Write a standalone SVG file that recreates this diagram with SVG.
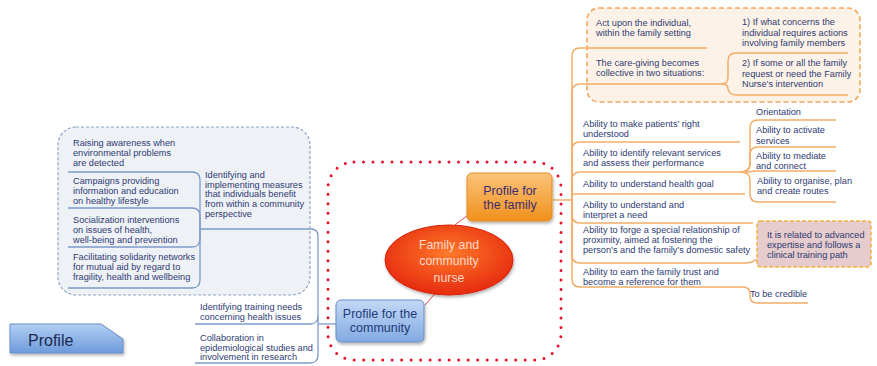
<svg xmlns="http://www.w3.org/2000/svg" width="877" height="366" viewBox="0 0 877 366">
<defs>
<linearGradient id="gOr" x1="0" y1="0" x2="0" y2="1"><stop offset="0" stop-color="#fcc47a"/><stop offset="1" stop-color="#f0901c"/></linearGradient>
<linearGradient id="gBl" x1="0" y1="0" x2="0" y2="1"><stop offset="0" stop-color="#c3d8f5"/><stop offset="1" stop-color="#82aae2"/></linearGradient>
<linearGradient id="gPr" x1="0" y1="0" x2="0" y2="1"><stop offset="0" stop-color="#b2cff4"/><stop offset="1" stop-color="#6d9bdb"/></linearGradient>
<radialGradient id="gRd" cx="0.5" cy="0.4" r="0.6"><stop offset="0" stop-color="#ff7a2a"/><stop offset="1" stop-color="#e62a0e"/></radialGradient>
<filter id="sh" x="-20%" y="-20%" width="140%" height="150%"><feDropShadow dx="1" dy="2" stdDeviation="1.5" flood-color="#000" flood-opacity="0.3"/></filter>
<style>
text{font-family:"Liberation Sans",Arial,sans-serif;}
.t{font-size:9.2px;fill:#2e3a72;}
.ol{fill:none;stroke:#f2ad68;stroke-width:1.5;}
.bl{fill:none;stroke:#7d9aca;stroke-width:1.3;}
.rl{fill:none;stroke:#e04848;stroke-width:1;}
</style>
</defs>
<rect width="877" height="366" fill="#ffffff"/>

<!-- background frames -->
<g id="frames">
<rect x="58" y="127" width="252" height="168" rx="18" fill="#eef1f6" stroke="#8ea3c6" stroke-width="1.2" stroke-dasharray="3 2"/>
<rect x="587" y="8" width="273" height="94" rx="12" fill="#fdf2e7" stroke="#f2a860" stroke-width="1.6" stroke-dasharray="5 3"/>
<rect x="328" y="162" width="233" height="198" rx="26" fill="none" stroke="#e8102a" stroke-width="3" stroke-linecap="round" stroke-dasharray="0 9.5"/>
</g>

<!-- connectors -->
<g id="connectors">
<path class="rl" d="M455,225 L468,215"/>
<path class="rl" d="M438,290 L425,305"/>
<path class="ol" d="M553,200 H572"/>
<path class="ol" d="M572,200 V56 Q572,48 580,48 H707"/>
<path class="ol" d="M572,200 V92 Q572,84 580,84 H722"/>
<path class="ol" d="M722,84 Q728,84 728,77 V61 Q728,53 736,53 H848"/>
<path class="ol" d="M722,84 Q728,84 728,89 Q729,95 737,95 H848"/>
<path class="ol" d="M572,200 V150 Q572,142 580,142 H740"/>
<path class="ol" d="M572,200 V180 Q572,172 580,172 H748"/>
<path class="ol" d="M740,172 Q750,172 750,164 V128 Q750,120 758,120 H836"/>
<path class="ol" d="M740,172 Q750,172 750,164 V155 Q750,147 758,147 H836"/>
<path class="ol" d="M748,172 Q752,171 758,171 H836"/>
<path class="ol" d="M740,172 Q750,172 750,180 V194 Q750,202 758,202 H836"/>
<path class="ol" d="M572,200 V194 H745"/>
<path class="ol" d="M572,200 V215 Q572,223 580,223 H753"/>
<path class="ol" d="M572,200 V255 Q572,263 580,263 H745 Q752,263 755,260 H866"/>
<path class="ol" d="M572,200 V279 Q572,287 580,287 H743 Q750,287 750,294 V296 Q750,303 757,303 H808"/>
<path class="bl" d="M68,172 H192 Q200,172 200,180 V229"/>
<path class="bl" d="M68,208 H192 Q200,208 200,216 V229"/>
<path class="bl" d="M68,247 H192 Q200,247 200,239 V229"/>
<path class="bl" d="M68,288 H192 Q200,288 200,280 V229"/>
<path class="bl" d="M200,229 H311 Q318,229 318,236 V316 Q318,324 310,324 H195"/>
<path class="bl" d="M318,316 V355 Q318,363 310,363 H195"/>
<path class="bl" d="M318,324 H336"/>
</g>

<!-- central node -->
<g id="n-center">
<ellipse cx="449" cy="260" rx="64" ry="35" fill="url(#gRd)" stroke="#d8200c" stroke-width="1" filter="url(#sh)"/>
<g font-size="12.3" fill="#ffd9cc" text-anchor="middle">
<text x="449" y="249">Family and</text>
<text x="449" y="265">community</text>
<text x="449" y="282">nurse</text>
</g>
</g>

<g id="n-family">
<rect x="467" y="173" width="85" height="48" rx="5" fill="url(#gOr)" stroke="#e38a24" stroke-width="1" filter="url(#sh)"/>
<g font-size="12.5" fill="#3d2b73" text-anchor="middle">
<text x="510" y="195">Profile for</text>
<text x="510" y="208.5">the family</text>
</g>
</g>

<g id="n-community">
<rect x="336" y="300" width="88" height="42" rx="5" fill="url(#gBl)" stroke="#6a90c8" stroke-width="1" filter="url(#sh)"/>
<g font-size="12.5" fill="#1f3a7a" text-anchor="middle">
<text x="380" y="318">Profile for the</text>
<text x="380" y="332">community</text>
</g>
</g>

<g id="n-profile">
<path d="M10,324 H101 L123,339 V353 H10 Z" fill="url(#gPr)" stroke="#6a90c8" stroke-width="1" filter="url(#sh)"/>
<text x="28" y="346" font-size="16" fill="#1e2a52">Profile</text>
</g>

<!-- family branch -->
<g id="n-act" class="t"><text x="596" y="26">Act upon the individual,</text><text x="596" y="36">within the family setting</text></g>
<g id="n-care" class="t"><text x="596" y="66">The care-giving becomes</text><text x="596" y="76">collective in two situations:</text></g>
<g id="n-sit1" class="t"><text x="742" y="25">1) If what concerns the</text><text x="742" y="35.5">individual requires actions</text><text x="742" y="46">involving family members</text></g>
<g id="n-sit2" class="t"><text x="742" y="66">2) If some or all the family</text><text x="742" y="76.5">request or need the Family</text><text x="742" y="87">Nurse’s intervention</text></g>
<g id="n-understood" class="t"><text x="583" y="127">Ability to make patients’ right</text><text x="583" y="137">understood</text></g>
<g id="n-identify" class="t"><text x="583" y="156">Ability to identify relevant services</text><text x="583" y="166">and assess their performance</text></g>
<g id="n-orientation" class="t"><text x="756" y="115">Orientation</text></g>
<g id="n-activate" class="t"><text x="756" y="133">Ability to activate</text><text x="756" y="144">services</text></g>
<g id="n-mediate" class="t"><text x="756" y="159">Ability to mediate</text><text x="756" y="169">and connect</text></g>
<g id="n-organise" class="t"><text x="757" y="184">Ability to organise, plan</text><text x="757" y="194">and create routes</text></g>
<g id="n-goal" class="t"><text x="583" y="187">Ability to understand health goal</text></g>
<g id="n-need" class="t"><text x="583" y="208">Ability to understand and</text><text x="583" y="218">interpret a need</text></g>
<g id="n-forge" class="t"><text x="583" y="233">Ability to forge a special relationship of</text><text x="583" y="243">proximity, aimed at fostering the</text><text x="583" y="253">person’s and the family’s domestic safety</text></g>
<g id="n-expertise">
<rect x="757" y="221" width="114" height="46" rx="3" fill="#e6cccc" stroke="#f5b040" stroke-width="1.5" stroke-dasharray="4 2"/>
<g class="t"><text x="767" y="238">It is related to advanced</text><text x="767" y="248">expertise  and follows a</text><text x="767" y="258">clinical training path</text></g>
</g>
<g id="n-trust" class="t"><text x="583" y="275">Ability to earn the family trust and</text><text x="583" y="285">become a reference for them</text></g>
<g id="n-credible" class="t"><text x="750" y="297">To be credible</text></g>

<!-- community branch -->
<g id="n-raising" class="t"><text x="73" y="146">Raising awareness when</text><text x="73" y="155.5">environmental problems</text><text x="73" y="165.5">are detected</text></g>
<g id="n-campaigns" class="t"><text x="73" y="184">Campaigns providing</text><text x="73" y="193.5">information and education</text><text x="73" y="203.5">on healthy lifestyle</text></g>
<g id="n-social" class="t"><text x="73" y="223">Socialization interventions</text><text x="73" y="232.5">on issues of health,</text><text x="73" y="242.5">well-being and prevention</text></g>
<g id="n-solidarity" class="t"><text x="73" y="260">Facilitating solidarity networks</text><text x="73" y="269.5">for mutual aid by regard to</text><text x="73" y="279.5">fragility, health and wellbeing</text></g>
<g id="n-measures" class="t"><text x="205" y="178">Identifying and</text><text x="205" y="187.5">implementing measures</text><text x="205" y="197">that individuals benefit</text><text x="205" y="206.5">from within a community</text><text x="205" y="217">perspective</text></g>
<g id="n-training" class="t"><text x="200" y="310">Identifying training needs</text><text x="200" y="320">concerning health issues</text></g>
<g id="n-research" class="t"><text x="200" y="341">Collaboration in</text><text x="200" y="350.5">epidemiological studies and</text><text x="200" y="360">involvement in research</text></g>
</svg>
